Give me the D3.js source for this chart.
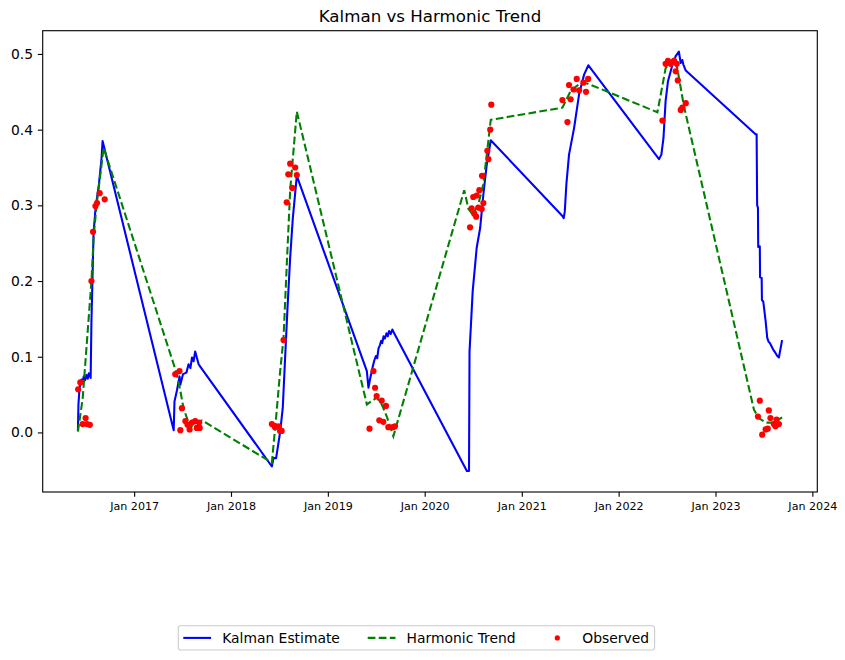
<!DOCTYPE html>
<html>
<head>
<meta charset="utf-8">
<script src="https://cdn.jsdelivr.net/npm/d3@7"></script>
<style>
  body { margin: 0; background: #fff; }
  svg { font-family: "DejaVu Sans", sans-serif; }
</style>
</head>
<body>
<div id="chart"></div>
<script>
// kalman filter estimate (date, value)
const kalman = [
  ["2016-06-03", 0.002], ["2016-06-05", 0.037], ["2016-06-09", 0.058], ["2016-06-12", 0.064],
  ["2016-06-16", 0.070], ["2016-06-20", 0.066], ["2016-06-25", 0.074], ["2016-06-30", 0.069],
  ["2016-07-05", 0.076], ["2016-07-10", 0.071], ["2016-07-14", 0.078], ["2016-07-21", 0.072],
  ["2016-07-24", 0.147], ["2016-07-28", 0.204], ["2016-08-01", 0.264], ["2016-08-09", 0.298],
  ["2016-08-21", 0.327], ["2016-08-31", 0.362], ["2016-09-04", 0.385],
  ["2017-05-30", 0.003], ["2017-06-02", 0.041], ["2017-06-11", 0.055], ["2017-06-21", 0.074],
  ["2017-06-24", 0.063], ["2017-07-04", 0.077], ["2017-07-17", 0.079], ["2017-07-25", 0.090],
  ["2017-08-01", 0.085], ["2017-08-07", 0.099], ["2017-08-13", 0.094], ["2017-08-19", 0.107],
  ["2017-09-01", 0.090],
  ["2018-06-04", -0.045], ["2018-06-10", -0.034], ["2018-06-20", -0.034], ["2018-07-05", 0.000],
  ["2018-07-15", 0.032], ["2018-07-24", 0.099], ["2018-08-02", 0.165], ["2018-08-12", 0.231],
  ["2018-08-22", 0.283], ["2018-09-06", 0.339],
  ["2019-05-28", 0.081], ["2019-06-03", 0.059], ["2019-06-10", 0.072], ["2019-06-15", 0.080],
  ["2019-06-20", 0.088], ["2019-06-25", 0.095], ["2019-07-01", 0.101], ["2019-07-06", 0.098],
  ["2019-07-11", 0.111], ["2019-07-16", 0.115], ["2019-07-21", 0.121], ["2019-07-25", 0.118],
  ["2019-07-30", 0.127], ["2019-08-04", 0.124], ["2019-08-10", 0.131], ["2019-08-15", 0.127],
  ["2019-08-20", 0.134], ["2019-08-26", 0.130], ["2019-09-01", 0.136], ["2019-09-05", 0.133],
  ["2020-06-08", -0.051], ["2020-06-16", -0.051], ["2020-06-18", 0.107], ["2020-06-30", 0.187],
  ["2020-07-15", 0.244], ["2020-07-28", 0.270], ["2020-08-09", 0.314], ["2020-08-22", 0.354],
  ["2020-09-06", 0.386],
  ["2021-06-03", 0.286], ["2021-06-08", 0.283], ["2021-06-12", 0.292], ["2021-06-18", 0.328],
  ["2021-06-28", 0.367], ["2021-07-17", 0.402], ["2021-08-05", 0.447], ["2021-08-24", 0.473],
  ["2021-09-09", 0.485],
  ["2022-06-02", 0.361], ["2022-06-11", 0.367], ["2022-06-19", 0.389], ["2022-06-27", 0.438],
  ["2022-07-06", 0.464], ["2022-07-23", 0.486], ["2022-08-04", 0.497], ["2022-08-16", 0.503],
  ["2022-08-23", 0.488], ["2022-08-29", 0.492], ["2022-09-02", 0.486], ["2022-09-11", 0.478],
  ["2023-06-01", 0.394], ["2023-06-05", 0.394], ["2023-06-07", 0.300], ["2023-06-10", 0.297],
  ["2023-06-11", 0.245], ["2023-06-17", 0.246], ["2023-06-18", 0.205], ["2023-06-24", 0.204],
  ["2023-06-25", 0.175], ["2023-06-30", 0.173], ["2023-07-09", 0.147], ["2023-07-15", 0.125],
  ["2023-07-20", 0.120], ["2023-07-25", 0.118], ["2023-08-03", 0.112], ["2023-08-09", 0.108],
  ["2023-08-15", 0.105], ["2023-08-22", 0.101], ["2023-08-28", 0.099], ["2023-09-09", 0.122]
];

// harmonic trend
const trend = [
  ["2016-06-03", 0.001], ["2016-06-21", 0.045], ["2016-07-07", 0.120], ["2016-07-24", 0.200],
  ["2016-08-02", 0.262], ["2016-08-14", 0.305], ["2016-08-28", 0.345], ["2016-09-08", 0.376],
  ["2017-06-11", 0.077], ["2017-06-24", 0.055], ["2017-07-06", 0.032], ["2017-07-25", 0.013],
  ["2017-08-01", 0.006], ["2017-08-13", 0.011], ["2017-09-14", 0.016],
  ["2018-06-04", -0.040], ["2018-06-20", 0.020], ["2018-07-05", 0.080], ["2018-07-18", 0.125],
  ["2018-07-30", 0.220], ["2018-08-12", 0.320], ["2018-09-06", 0.424],
  ["2019-05-28", 0.037], ["2019-07-04", 0.046], ["2019-07-23", 0.037], ["2019-08-10", 0.022],
  ["2019-09-05", -0.005],
  ["2020-05-29", 0.320], ["2020-06-14", 0.295], ["2020-06-30", 0.288], ["2020-07-21", 0.301],
  ["2020-08-09", 0.328], ["2020-08-22", 0.367], ["2020-09-06", 0.413],
  ["2021-06-03", 0.429], ["2021-07-04", 0.451], ["2021-08-11", 0.462], ["2021-09-05", 0.461],
  ["2022-05-27", 0.423], ["2022-06-09", 0.447], ["2022-06-27", 0.481], ["2022-07-16", 0.490],
  ["2022-07-29", 0.494], ["2022-08-10", 0.481], ["2022-08-23", 0.455], ["2022-09-04", 0.431],
  ["2023-05-26", 0.030], ["2023-06-13", 0.019], ["2023-07-09", 0.013], ["2023-08-09", 0.013],
  ["2023-09-09", 0.020]
];

// observed values
const observed = [
  ["2016-06-04", 0.057], ["2016-06-12", 0.066], ["2016-06-21", 0.011], ["2016-07-02", 0.019],
  ["2016-07-07", 0.011], ["2016-07-18", 0.010], ["2016-07-24", 0.200], ["2016-07-30", 0.265],
  ["2016-08-08", 0.299], ["2016-08-14", 0.303], ["2016-08-24", 0.316], ["2016-09-12", 0.308],
  ["2017-06-05", 0.077], ["2017-06-21", 0.081], ["2017-06-24", 0.003], ["2017-06-30", 0.032],
  ["2017-07-13", 0.015], ["2017-07-21", 0.010], ["2017-07-29", 0.004], ["2017-08-07", 0.013],
  ["2017-08-19", 0.015], ["2017-08-25", 0.006], ["2017-09-03", 0.013], ["2017-09-05", 0.006],
  ["2018-06-04", 0.011], ["2018-06-16", 0.007], ["2018-06-29", 0.008], ["2018-07-05", 0.002],
  ["2018-07-11", 0.002], ["2018-07-18", 0.122], ["2018-07-30", 0.304], ["2018-08-05", 0.341],
  ["2018-08-12", 0.355], ["2018-08-20", 0.323], ["2018-08-31", 0.350], ["2018-09-06", 0.340],
  ["2019-06-07", 0.005], ["2019-06-22", 0.081], ["2019-06-28", 0.059], ["2019-07-04", 0.048],
  ["2019-07-14", 0.016], ["2019-07-23", 0.042], ["2019-07-29", 0.014], ["2019-08-08", 0.035],
  ["2019-08-17", 0.007], ["2019-09-03", 0.007], ["2019-09-11", 0.008],
  ["2020-06-20", 0.271], ["2020-06-26", 0.296], ["2020-07-02", 0.311], ["2020-07-06", 0.289],
  ["2020-07-13", 0.285], ["2020-07-15", 0.313], ["2020-07-21", 0.297], ["2020-07-25", 0.320],
  ["2020-08-03", 0.295], ["2020-08-04", 0.339], ["2020-08-09", 0.303], ["2020-08-24", 0.372],
  ["2020-08-28", 0.361], ["2020-09-04", 0.400], ["2020-09-08", 0.433],
  ["2021-06-03", 0.439], ["2021-06-22", 0.410], ["2021-06-28", 0.459], ["2021-07-04", 0.440],
  ["2021-07-15", 0.453], ["2021-07-27", 0.467], ["2021-08-05", 0.452], ["2021-08-21", 0.462],
  ["2021-08-31", 0.450], ["2021-09-08", 0.467],
  ["2022-06-15", 0.412], ["2022-06-27", 0.487], ["2022-07-06", 0.491], ["2022-07-16", 0.487],
  ["2022-07-29", 0.491], ["2022-08-04", 0.477], ["2022-08-08", 0.487], ["2022-08-12", 0.465],
  ["2022-08-23", 0.426], ["2022-08-29", 0.429], ["2022-09-11", 0.435],
  ["2023-06-10", 0.021], ["2023-06-17", 0.042], ["2023-06-26", -0.003], ["2023-07-09", 0.004],
  ["2023-07-17", 0.005], ["2023-07-21", 0.029], ["2023-07-27", 0.019], ["2023-08-09", 0.011],
  ["2023-08-15", 0.008], ["2023-08-19", 0.017], ["2023-08-28", 0.011]
];

const yTicks = [0.0, 0.1, 0.2, 0.3, 0.4, 0.5];
const xTickYears = [2017, 2018, 2019, 2020, 2021, 2022, 2023, 2024];

const W = 845, H = 660;
const mLeft = 42.7, mRight = 817.3, mTop = 30.7, mBottom = 492;
const pt = 100 / 72;   // figure is 100 dpi

const parse = d3.utcParse("%Y-%m-%d");
const toPts = arr => arr.map(d => ({ date: parse(d[0]), value: d[1] }));
const kal = toPts(kalman), tr = toPts(trend), obs = toPts(observed);
const all = kal.concat(tr, obs);

// matplotlib style 5% margins
function padded(ext) {
  const span = ext[1] - ext[0];
  return [ext[0] - span * 0.05, ext[1] + span * 0.05];
}
const xExt = padded(d3.extent(all, d => +d.date));
const yExt = padded(d3.extent(all, d => d.value));

const x = d3.scaleUtc().domain([new Date(xExt[0]), new Date(xExt[1])]).range([mLeft, mRight]);
const y = d3.scaleLinear().domain(yExt).range([mBottom, mTop]);

const svg = d3.select("#chart").append("svg")
  .attr("width", W)
  .attr("height", H);

svg.append("rect").attr("width", W).attr("height", H).attr("fill", "#fff");

svg.append("clipPath").attr("id", "clip")
  .append("rect")
  .attr("x", mLeft).attr("y", mTop)
  .attr("width", mRight - mLeft).attr("height", mBottom - mTop);

const line = d3.line().x(d => x(d.date)).y(d => y(d.value));
const lw = 1.5 * pt;
const dash = `${3.7 * 1.5 * pt},${1.6 * 1.5 * pt}`;

const g = svg.append("g").attr("clip-path", "url(#clip)");

g.append("path")
  .datum(kal)
  .attr("fill", "none")
  .attr("stroke", "blue")
  .attr("stroke-width", lw)
  .attr("stroke-linejoin", "round")
  .attr("d", line);

g.append("path")
  .datum(tr)
  .attr("fill", "none")
  .attr("stroke", "green")
  .attr("stroke-width", lw)
  .attr("stroke-dasharray", dash)
  .attr("d", line);

g.append("g")
  .selectAll("circle")
  .data(obs)
  .join("circle")
    .attr("cx", d => x(d.date))
    .attr("cy", d => y(d.value))
    .attr("r", 3.1)
    .attr("fill", "red");

// axes
const xAxis = d3.axisBottom(x)
  .tickValues(xTickYears.map(yr => new Date(Date.UTC(yr, 0, 1))))
  .tickFormat(d3.utcFormat("%b %Y"))
  .tickSize(3.5 * pt)
  .tickPadding(3.5 * pt);

const yAxis = d3.axisLeft(y)
  .tickValues(yTicks)
  .tickFormat(d3.format(".1f"))
  .tickSize(3.5 * pt)
  .tickPadding(3.5 * pt);

const gx = svg.append("g")
  .attr("transform", `translate(0,${mBottom})`)
  .call(xAxis);
gx.select(".domain").remove();
gx.selectAll("text").attr("font-size", 8 * pt).attr("fill", "#000").attr("font-family", "DejaVu Sans");
gx.selectAll("line").attr("stroke", "#000").attr("stroke-width", 0.8 * pt);

const gy = svg.append("g")
  .attr("transform", `translate(${mLeft},0)`)
  .call(yAxis);
gy.select(".domain").remove();
gy.selectAll("text").attr("font-size", 10 * pt).attr("fill", "#000").attr("font-family", "DejaVu Sans");
gy.selectAll("line").attr("stroke", "#000").attr("stroke-width", 0.8 * pt);

// frame
svg.append("rect")
  .attr("x", mLeft).attr("y", mTop)
  .attr("width", mRight - mLeft).attr("height", mBottom - mTop)
  .attr("fill", "none")
  .attr("stroke", "#000")
  .attr("stroke-width", 0.8 * pt);

// title
svg.append("text")
  .attr("x", (mLeft + mRight) / 2)
  .attr("y", mTop - 6 * pt)
  .attr("text-anchor", "middle")
  .attr("font-size", 12 * pt)
  .attr("fill", "#000")
  .text("Kalman vs Harmonic Trend");

// legend, 3 columns
const fs = 10 * pt;
const lg = svg.append("g").attr("transform", "translate(178.3,625.7)");
const box = lg.append("rect")
  .attr("height", 24.3)
  .attr("rx", 2.5)
  .attr("fill", "#fff")
  .attr("fill-opacity", 0.8)
  .attr("stroke", "#cccccc")
  .attr("stroke-width", 0.8 * pt);

const items = [
  { label: "Kalman Estimate", type: "line", color: "blue" },
  { label: "Harmonic Trend", type: "dash", color: "green" },
  { label: "Observed", type: "dot", color: "red" }
];
const ly = 12.2;
let cx = 5;
items.forEach(it => {
  const hl = 2 * fs;
  if (it.type === "dot") {
    lg.append("circle").attr("cx", cx + hl / 2).attr("cy", ly).attr("r", 2.6).attr("fill", it.color);
  } else {
    lg.append("line")
      .attr("x1", cx).attr("x2", cx + hl)
      .attr("y1", ly).attr("y2", ly)
      .attr("stroke", it.color)
      .attr("stroke-width", lw)
      .attr("stroke-dasharray", it.type === "dash" ? dash : null);
  }
  const t = lg.append("text")
    .attr("x", cx + hl + 0.8 * fs)
    .attr("y", ly)
    .attr("dy", "0.35em")
    .attr("font-size", fs)
    .attr("fill", "#000")
    .text(it.label);
  cx += hl + 0.8 * fs + t.node().getComputedTextLength() + 2 * fs;
});
box.attr("width", cx - 2 * fs + 5.5);
</script>
</body>
</html>
